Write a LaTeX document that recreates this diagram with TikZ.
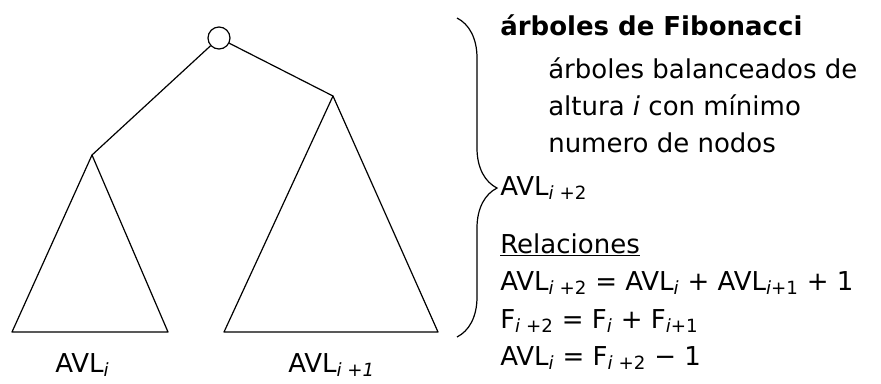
\documentclass[tikz,border=0pt]{standalone}
\usepackage{fontspec}
\setmainfont{DejaVu Sans}
\usepackage{tikz}
\usetikzlibrary{positioning,decorations.pathreplacing}
\newcommand{\idx}[1]{\textsubscript{#1}}
\tikzset{
  edge/.style={black, line width=0.9pt},
  subtree/.style={black, line width=0.9pt, line join=round},
  rootnode/.style={circle, draw, line width=0.9pt, minimum size=16.5pt, inner sep=0pt},
  txt/.style={anchor=base west, inner sep=0pt, font=\fontsize{19.5}{23}\selectfont},
  bracket/.style={black, line width=0.9pt, decorate, decoration={brace, amplitude=30pt, aspect=0.533}}
}

\begin{document}
\begin{tikzpicture}[x=0.75pt,y=-0.75pt]
  \useasboundingbox (0,0) rectangle (881,383);
  % arbol AVL_{i+2}
  \node[rootnode] (root) at (219,38) {};
  \coordinate (lefttop) at (92,155);
  \coordinate (righttop) at (333,96);
  \draw[edge] (root) -- (lefttop);
  \draw[edge] (root) -- (righttop);
  \draw[subtree] (lefttop) -- (168,332) -- (12,332) -- cycle;
  \draw[subtree] (righttop) -- (438,332) -- (224,332) -- cycle;
  \node[txt] (avli) at (55,372) {AVL\idx{\textit{i}}};
  \node[txt] (avlii) at (288,372) {AVL\idx{\textit{i} \textit{+1}}};
  % llave
  \draw[bracket] (457,18) -- (457,337);
  \node[txt, font=\fontsize{19.5}{23}\selectfont\bfseries] (fibo) at (500,35) {árboles de Fibonacci};
  \node[txt] (def1) at (548,78) {árboles balanceados de};
  \node[txt] (def2) at (548,115) {altura \textit{i} con mínimo};
  \node[txt] (def3) at (548,152) {numero de nodos};
  \node[txt] (avl) at (500,195) {AVL\idx{\textit{i} +2}};
  % relaciones
  \node[txt] (rel) at (500,253) {\underline{Relaciones}};
  \node[txt] (eq1) at (500,290) {AVL\idx{\textit{i} +2} = AVL\idx{\textit{i}} + AVL\idx{\textit{i}+1} + 1};
  \node[txt] (eq2) at (500,328) {F\idx{\textit{i} +2} = F\idx{\textit{i}} + F\idx{\textit{i}+1}};
  \node[txt] (eq3) at (500,365) {AVL\idx{\textit{i}} = F\idx{\textit{i} +2} − 1};
\end{tikzpicture}
\end{document}
